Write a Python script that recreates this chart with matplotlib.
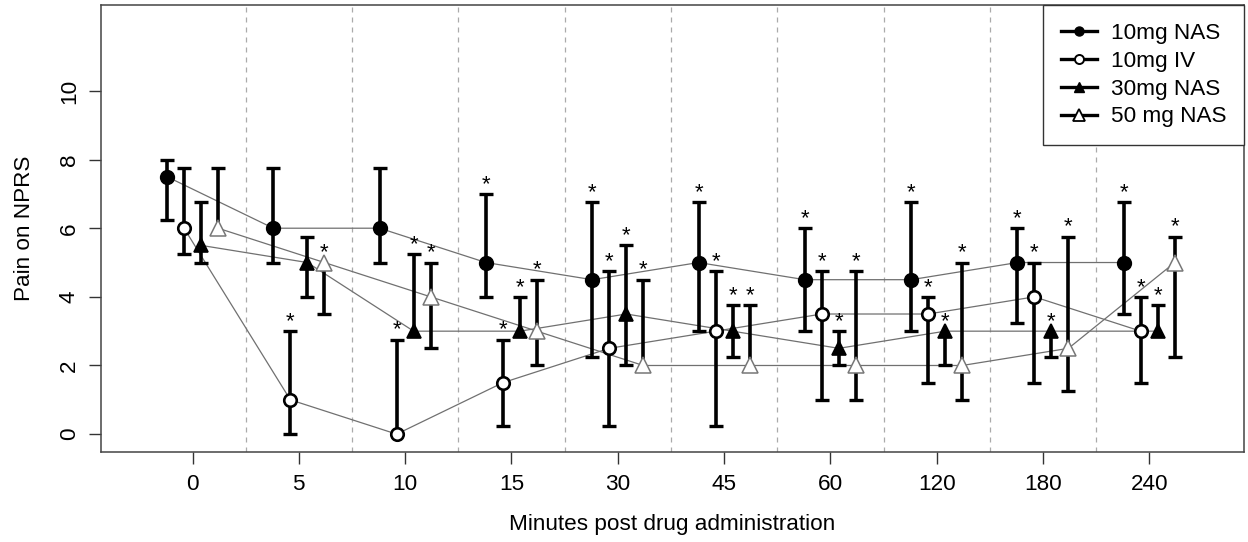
import numpy as np
import matplotlib
matplotlib.use("Agg")
import matplotlib.pyplot as plt
from matplotlib.lines import Line2D

plt.rcParams['font.family'] = ['Liberation Sans', 'DejaVu Sans']

# time points (categorical axis)
minutes = ["0", "5", "10", "15", "30", "45", "60", "120", "180", "240"]
labels = ["10mg NAS", "10mg IV", "30mg NAS", "50 mg NAS"]

# medians and ranges
nas10_mid = [7.5, 6, 6, 5, 4.5, 5, 4.5, 4.5, 5, 5]
nas10_lo = [6.25, 5, 5, 4, 2.25, 3, 3, 3, 3.25, 3.5]
nas10_hi = [8, 7.75, 7.75, 7, 6.75, 6.75, 6, 6.75, 6, 6.75]
nas10_sig = [0, 0, 0, 1, 1, 1, 1, 1, 1, 1]

iv10_mid = [6, 1, 0, 1.5, 2.5, 3, 3.5, 3.5, 4, 3]
iv10_lo = [5.25, 0, 0, 0.25, 0.25, 0.25, 1, 1.5, 1.5, 1.5]
iv10_hi = [7.75, 3, 2.75, 2.75, 4.75, 4.75, 4.75, 4, 5, 4]
iv10_sig = [0, 1, 1, 1, 1, 1, 1, 1, 1, 1]

nas30_mid = [5.5, 5, 3, 3, 3.5, 3, 2.5, 3, 3, 3]
nas30_lo = [5, 4, 3, 3, 2, 2.25, 2, 2, 2.25, 3]
nas30_hi = [6.75, 5.75, 5.25, 4, 5.5, 3.75, 3, 3, 3, 3.75]
nas30_sig = [0, 0, 1, 1, 1, 1, 1, 1, 1, 1]

nas50_mid = [6, 5, 4, 3, 2, 2, 2, 2, 2.5, 5]
nas50_lo = [6, 3.5, 2.5, 2, 2, 2, 1, 1, 1.25, 2.25]
nas50_hi = [7.75, 5, 5, 4.5, 4.5, 3.75, 4.75, 5, 5.75, 5.75]
nas50_sig = [0, 1, 1, 1, 1, 1, 1, 1, 1, 1]

series = [
    (nas10_mid, nas10_lo, nas10_hi, nas10_sig, -0.24, dict(marker='o', mfc='black', mec='black', ms=9.5, mew=1.5)),
    (iv10_mid, iv10_lo, iv10_hi, iv10_sig, -0.08, dict(marker='o', mfc='white', mec='black', ms=9, mew=1.9)),
    (nas30_mid, nas30_lo, nas30_hi, nas30_sig, 0.08, dict(marker='^', mfc='black', mec='black', ms=10, mew=1.2)),
    (nas50_mid, nas50_lo, nas50_hi, nas50_sig, 0.24, dict(marker='^', mfc='white', mec='#777777', ms=11, mew=1.1)),
]

fig = plt.figure(figsize=(12.48, 5.42), dpi=100)
ax = fig.add_axes([0.0812, 0.1661, 0.9154, 0.8238])

pos = np.arange(1, len(minutes) + 1)

# separators between time points
for b in pos[:-1] + 0.5:
    ax.axvline(b, color='#aaaaaa', lw=0.9, ls=(0, (4, 4)), zorder=0)

for mid, lo, hi, sig, off, mstyle in series:
    x = pos + off
    mid = np.array(mid, float)
    lo = np.array(lo, float)
    hi = np.array(hi, float)
    ax.plot(x, mid, color='#707070', lw=0.9, zorder=1)
    up = hi > mid
    dn = lo < mid
    ax.vlines(x[up], mid[up], hi[up], color='black', lw=2.6, zorder=2)
    ax.vlines(x[dn], lo[dn], mid[dn], color='black', lw=2.6, zorder=2)
    ax.plot(x[up], hi[up], ls='none', marker='_', ms=10, mew=2.4, color='black', zorder=2)
    ax.plot(x[dn], lo[dn], ls='none', marker='_', ms=10, mew=2.4, color='black', zorder=2)
    ax.plot(x, mid, ls='none', zorder=3, **mstyle)
    for xi, top, s in zip(x, np.maximum(hi, mid), sig):
        if s:
            ax.text(xi, top + 0.12, '*', ha='center', va='baseline', fontsize=16, zorder=4)

ax.set_xlim(0.142, 10.889)
ax.set_ylim(-0.52, 12.49)
ax.set_xticks(pos)
ax.set_xticklabels(minutes)
ax.set_yticks([0, 2, 4, 6, 8, 10])
ax.set_yticklabels(['0', '2', '4', '6', '8', '10'], rotation=90, va='center')
ax.tick_params(labelsize=16.2, length=8.5, width=1.0, color='#333333', pad=7)
for sp in ax.spines.values():
    sp.set_color('#444444')
    sp.set_linewidth(1.1)

ax.set_xlabel("Minutes post drug administration", fontsize=16.2, labelpad=14)
ax.set_ylabel("Pain on NPRS", fontsize=16.2, labelpad=17)

handles = [
    Line2D([], [], color='black', lw=2.4, marker='o', mfc='black', mec='black', ms=6.5),
    Line2D([], [], color='black', lw=2.4, marker='o', mfc='white', mec='black', ms=6.5, mew=1.4),
    Line2D([], [], color='black', lw=2.4, marker='^', mfc='black', mec='black', ms=7.5),
    Line2D([], [], color='black', lw=2.4, marker='^', mfc='white', mec='black', ms=8, mew=1.3),
]
leg = ax.legend(handles, labels, loc='upper right', bbox_to_anchor=(1, 1), borderaxespad=0,
                fontsize=16.2, fancybox=False, framealpha=1, edgecolor='#333333',
                handlelength=1.6, handletextpad=0.65, labelspacing=0.31, borderpad=0.76)
leg.get_frame().set_linewidth(1.0)

fig.savefig("out.png", dpi=100)
